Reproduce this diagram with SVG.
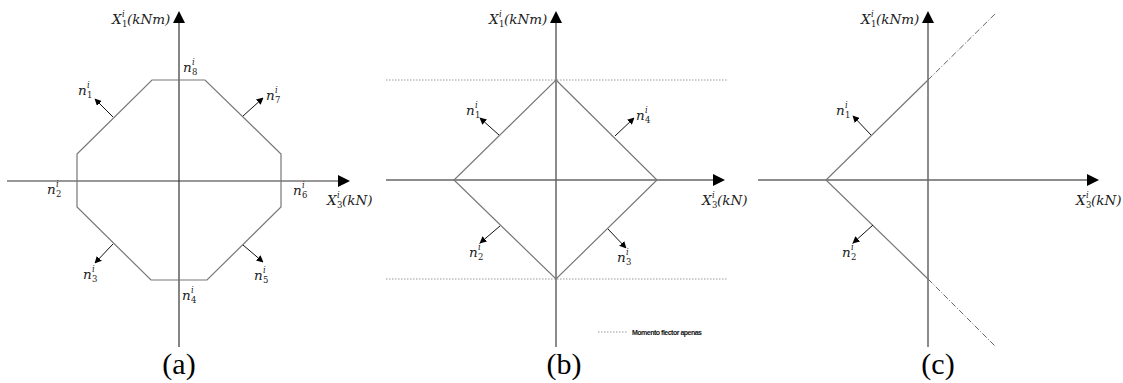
<svg xmlns="http://www.w3.org/2000/svg" width="1123" height="383" viewBox="0 0 1123 383">
<style>
.ax{stroke:#666;stroke-width:1.5;fill:none}
.axa{stroke:#333;stroke-width:1.2;fill:none}
.ed{stroke:#777;stroke-width:1.2;fill:none}
.nv{stroke:#111;stroke-width:1;fill:none;marker-end:url(#ah)}
.dot{stroke:#999;stroke-width:1;stroke-dasharray:1.5 1.5;fill:none}
.dd{stroke:#666;stroke-width:1;stroke-dasharray:6 2 1 2;fill:none}
.m{font-family:"DejaVu Serif",serif;font-style:italic;font-size:13.5px;fill:#222}
.s{font-family:"DejaVu Serif",serif;font-size:8.5px;fill:#222}
.si{font-family:"DejaVu Serif",serif;font-style:italic;font-size:8.5px;fill:#222}
.cap{font-family:"Liberation Serif",serif;font-size:30px;fill:#000}
.lg{font-family:"Liberation Sans",sans-serif;font-size:7px;font-weight:bold;fill:#111;letter-spacing:-0.5px}
.tip{fill:#000}
</style>
<defs>
<marker id="ah" viewBox="0 0 10 10" refX="9" refY="5" markerWidth="7" markerHeight="7" markerUnits="userSpaceOnUse" orient="auto">
<path d="M0,0 L10,5 L0,10 Z" fill="#000"/>
</marker>
</defs>
<rect width="1123" height="383" fill="#fff"/>

<g id="panel-a">
<g id="a-axes">
<line class="axa" x1="179" y1="20" x2="179" y2="347"/>
<polygon class="tip" points="179,11 173,23 185,23"/>
<line class="axa" x1="7" y1="181" x2="342" y2="181"/>
<polygon class="tip" points="350,181 338,175 338,187"/>
</g>
<g id="a-octagon">
<polygon class="ed" points="152,80 205,80 281,154 281,207 207,280 151,280 77,207 77,154"/>
</g>
<g id="a-normals">
<line class="nv" x1="113" y1="117" x2="95" y2="99"/>
<line class="nv" x1="243" y1="116" x2="263" y2="98"/>
<line class="nv" x1="113" y1="244" x2="95" y2="263"/>
<line class="nv" x1="243" y1="245" x2="263" y2="262"/>
</g>
<g id="a-labels">
<text class="m" x="112" y="24">X</text><text class="si" x="122" y="17">i</text><text class="s" x="122" y="27">1</text><text class="m" x="127" y="24">(kNm)</text>
<text class="m" x="327" y="205">X</text><text class="si" x="337" y="198">i</text><text class="s" x="337" y="208">3</text><text class="m" x="342" y="205">(kN)</text>
<text class="m" x="183" y="72">n</text><text class="si" x="192" y="65">i</text><text class="s" x="192" y="75">8</text>
<text class="m" x="78" y="95">n</text><text class="si" x="87" y="88">i</text><text class="s" x="87" y="98">1</text>
<text class="m" x="266" y="100">n</text><text class="si" x="275" y="93">i</text><text class="s" x="275" y="103">7</text>
<text class="m" x="47" y="194">n</text><text class="si" x="56" y="187">i</text><text class="s" x="56" y="197">2</text>
<text class="m" x="293" y="195">n</text><text class="si" x="302" y="188">i</text><text class="s" x="302" y="198">6</text>
<text class="m" x="83" y="279">n</text><text class="si" x="92" y="272">i</text><text class="s" x="92" y="282">3</text>
<text class="m" x="254" y="280">n</text><text class="si" x="263" y="273">i</text><text class="s" x="263" y="283">5</text>
<text class="m" x="182" y="300">n</text><text class="si" x="191" y="293">i</text><text class="s" x="191" y="303">4</text>
<text class="cap" x="179" y="374" text-anchor="middle">(a)</text>
</g>
</g>

<g id="panel-b">
<g id="b-axes">
<line class="ax" x1="556" y1="20" x2="556" y2="347"/>
<polygon class="tip" points="556,11 550,23 562,23"/>
<line class="ax" x1="386" y1="180" x2="716" y2="180"/>
<polygon class="tip" points="725,180 713,174 713,186"/>
</g>
<g id="b-limits">
<line class="dot" x1="386" y1="80" x2="727" y2="80"/>
<line class="dot" x1="386" y1="279" x2="727" y2="279"/>
</g>
<g id="b-diamond">
<polygon class="ed" points="556,80 657,180 556,279 454,180"/>
</g>
<g id="b-normals">
<line class="nv" x1="499" y1="135" x2="480" y2="118"/>
<line class="nv" x1="615" y1="136" x2="634" y2="118"/>
<line class="nv" x1="500" y1="226" x2="480" y2="243"/>
<line class="nv" x1="608" y1="229" x2="626" y2="248"/>
</g>
<g id="b-labels">
<text class="m" x="489" y="24">X</text><text class="si" x="499" y="17">i</text><text class="s" x="499" y="27">1</text><text class="m" x="504" y="24">(kNm)</text>
<text class="m" x="702" y="205">X</text><text class="si" x="712" y="198">i</text><text class="s" x="712" y="208">3</text><text class="m" x="717" y="205">(kN)</text>
<text class="m" x="466" y="115">n</text><text class="si" x="475" y="108">i</text><text class="s" x="475" y="118">1</text>
<text class="m" x="636" y="120">n</text><text class="si" x="645" y="113">i</text><text class="s" x="645" y="123">4</text>
<text class="m" x="469" y="257">n</text><text class="si" x="478" y="250">i</text><text class="s" x="478" y="260">2</text>
<text class="m" x="617" y="262">n</text><text class="si" x="626" y="255">i</text><text class="s" x="626" y="265">3</text>
<text class="cap" x="564" y="374" text-anchor="middle">(b)</text>
</g>
<g id="b-legend">
<line class="dot" x1="598" y1="332" x2="627" y2="332"/>
<text class="lg" x="632" y="334.5">Momento flector apenas</text>
</g>
</g>

<g id="panel-c">
<g id="c-axes">
<line class="ax" x1="928" y1="20" x2="928" y2="347"/>
<polygon class="tip" points="928,11 922,23 934,23"/>
<line class="ax" x1="758" y1="180" x2="1090" y2="180"/>
<polygon class="tip" points="1099,180 1087,174 1087,186"/>
</g>
<g id="c-cone">
<polyline class="ed" points="928,80 826,180 928,279"/>
<line class="dd" x1="928" y1="80" x2="996" y2="13"/>
<line class="dd" x1="928" y1="279" x2="996" y2="347"/>
</g>
<g id="c-normals">
<line class="nv" x1="871" y1="135" x2="853" y2="116"/>
<line class="nv" x1="873" y1="225" x2="853" y2="243"/>
</g>
<g id="c-labels">
<text class="m" x="861" y="24">X</text><text class="si" x="871" y="17">i</text><text class="s" x="871" y="27">1</text><text class="m" x="876" y="24">(kNm)</text>
<text class="m" x="1076" y="205">X</text><text class="si" x="1086" y="198">i</text><text class="s" x="1086" y="208">3</text><text class="m" x="1091" y="205">(kN)</text>
<text class="m" x="836" y="115">n</text><text class="si" x="845" y="108">i</text><text class="s" x="845" y="118">1</text>
<text class="m" x="842" y="257">n</text><text class="si" x="851" y="250">i</text><text class="s" x="851" y="260">2</text>
<text class="cap" x="938" y="374" text-anchor="middle">(c)</text>
</g>
</g>
</svg>
